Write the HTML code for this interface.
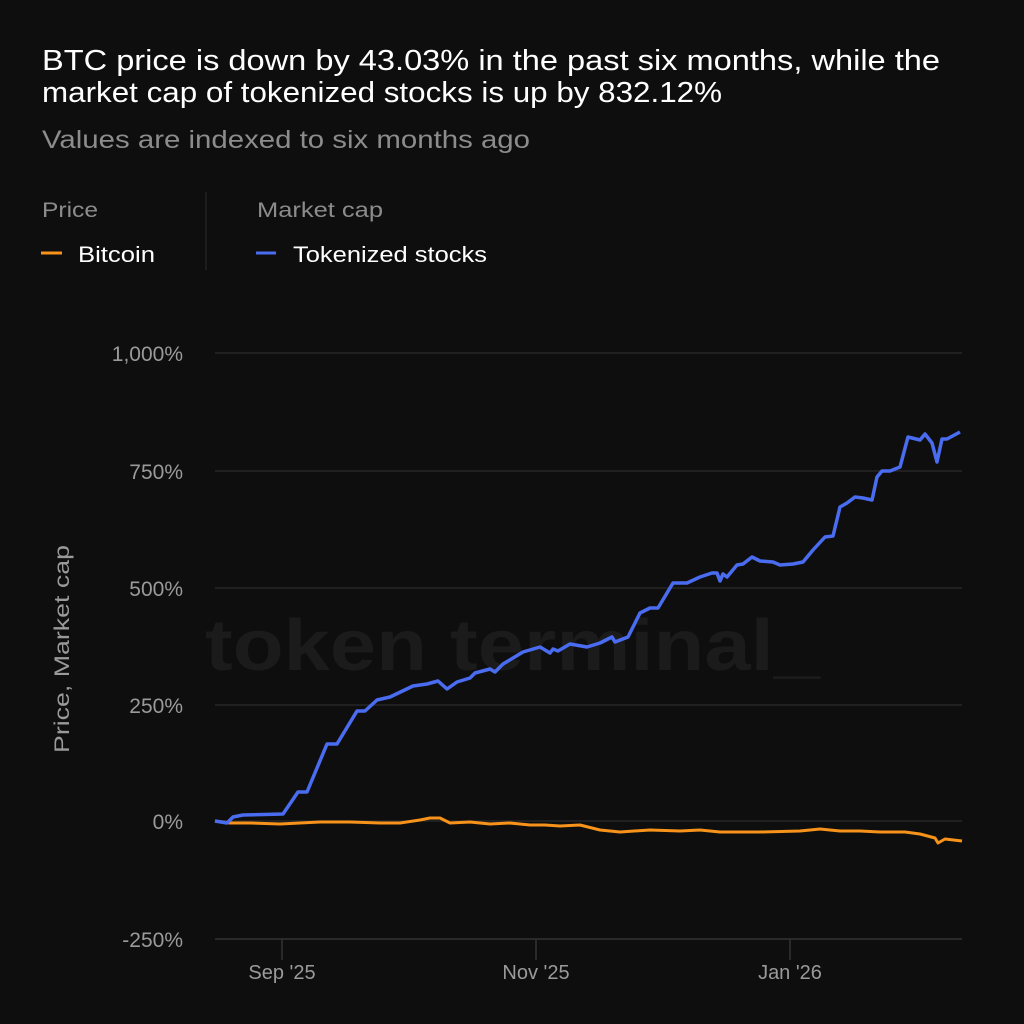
<!DOCTYPE html>
<html><head><meta charset="utf-8"><style>
html,body{margin:0;padding:0;background:#0e0e0e;}
svg{display:block;}
text{font-family:"Liberation Sans",sans-serif;}
</style></head><body>
<svg width="1024" height="1024" viewBox="0 0 1024 1024" xmlns="http://www.w3.org/2000/svg">
<rect width="1024" height="1024" fill="#0e0e0e"/>
<text x="42" y="70" font-size="29" fill="#ffffff" textLength="898" lengthAdjust="spacingAndGlyphs">BTC price is down by 43.03% in the past six months, while the</text>
<text x="42" y="102" font-size="29" fill="#ffffff" textLength="680" lengthAdjust="spacingAndGlyphs">market cap of tokenized stocks is up by 832.12%</text>
<text x="42" y="148" font-size="25" fill="#8c8c8c" textLength="488" lengthAdjust="spacingAndGlyphs">Values are indexed to six months ago</text>
<text x="42" y="217" font-size="21" fill="#8c8c8c" textLength="56" lengthAdjust="spacingAndGlyphs">Price</text>
<text x="257" y="217" font-size="21" fill="#8c8c8c" textLength="126" lengthAdjust="spacingAndGlyphs">Market cap</text>
<line x1="206" y1="192" x2="206" y2="270" stroke="#2a2a2a" stroke-width="1"/>
<line x1="41" y1="253" x2="62" y2="253" stroke="#f7931a" stroke-width="3"/>
<text x="78" y="262" font-size="22" fill="#ffffff" textLength="77" lengthAdjust="spacingAndGlyphs">Bitcoin</text>
<line x1="256" y1="253" x2="276" y2="253" stroke="#4a6cf0" stroke-width="3"/>
<text x="293" y="262" font-size="22" fill="#ffffff" textLength="194" lengthAdjust="spacingAndGlyphs">Tokenized stocks</text>

<text x="205" y="670" font-size="72" font-weight="bold" fill="#1b1b1b" textLength="615" lengthAdjust="spacingAndGlyphs">token terminal_</text>

<g stroke="#262626" stroke-width="1.5">
<line x1="215" y1="353" x2="962" y2="353"/>
<line x1="215" y1="471" x2="962" y2="471"/>
<line x1="215" y1="588" x2="962" y2="588"/>
<line x1="215" y1="705" x2="962" y2="705"/>
<line x1="215" y1="821" x2="962" y2="821"/>
</g>
<g stroke="#333" stroke-width="1.5">
<line x1="215" y1="939" x2="962" y2="939"/>
<line x1="282" y1="939" x2="282" y2="960"/>
<line x1="536" y1="939" x2="536" y2="960"/>
<line x1="790" y1="939" x2="790" y2="960"/>
</g>
<g font-size="21" fill="#9a9a9a" text-anchor="end">
<text x="183" y="361">1,000%</text>
<text x="183" y="479">750%</text>
<text x="183" y="596">500%</text>
<text x="183" y="713">250%</text>
<text x="183" y="829">0%</text>
<text x="183" y="947">-250%</text>
</g>
<g font-size="20" fill="#9a9a9a" text-anchor="middle">
<text x="282" y="979">Sep '25</text>
<text x="536" y="979">Nov '25</text>
<text x="790" y="979">Jan '26</text>
</g>
<text transform="translate(69,649) rotate(-90)" font-size="21" fill="#9a9a9a" text-anchor="middle" textLength="208" lengthAdjust="spacingAndGlyphs">Price, Market cap</text>

<polyline fill="none" stroke="#f7931a" stroke-width="3" stroke-linejoin="round" points="215,821 230,823 250,823 280,824 320,822 350,822 380,823 400,823 420,820 430,818 440,818 450,823 470,822 490,824 510,823 530,825 545,825 560,826 580,825 600,830 620,832 650,830 680,831 700,830 720,832 760,832 800,831 820,829 840,831 860,831 880,832 905,832 920,834 935,838 938,843 945,839 962,841"/>
<polyline fill="none" stroke="#4a6cf0" stroke-width="3.5" stroke-linejoin="round" points="215,821 227,823 233,817 243,815 283,814 298,792 307,792 327,744 337,744 357,711 365,711 377,700 390,697 413,686 427,684 438,681 447,689 457,682 470,678 475,673 490,669 495,672 503,664 523,652 540,647 550,653 553,649 558,651 570,644 587,647 600,643 612,637 615,642 628,637 640,613 650,608 658,608 673,583 687,583 700,577 712,573 717,573 720,581 723,574 727,577 737,565 743,564 752,557 760,561 773,562 780,565 793,564 803,562 813,550 825,537 833,536 840,507 847,503 855,497 863,498 872,500 877,477 882,471 890,471 900,467 908,437 920,440 925,434 932,443 937,462 942,439 947,439 960,432"/>
</svg>
</body></html>
